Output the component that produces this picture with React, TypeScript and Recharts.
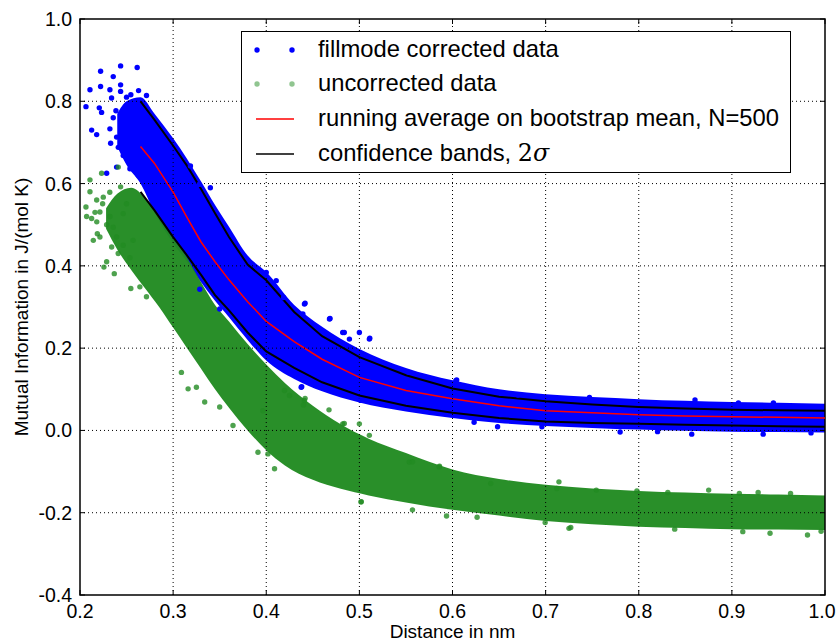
import React from "react";
import { Area, ComposedChart, Line, ReferenceArea, ReferenceLine, Scatter, XAxis, YAxis } from "recharts";

// axis ticks
const X_TICKS = [0.2, 0.3, 0.4, 0.5, 0.6, 0.7, 0.8, 0.9, 1.0];
const Y_TICKS = [-0.4, -0.2, 0.0, 0.2, 0.4, 0.6, 0.8, 1.0];
const X_GRID = [0.3, 0.4, 0.5, 0.6, 0.7, 0.8, 0.9];
const Y_GRID = [-0.2, 0.0, 0.2, 0.4, 0.6, 0.8];

// running average and 2 sigma bands
const BAND_X = [0.265, 0.28, 0.3, 0.315, 0.33, 0.345, 0.36, 0.38, 0.4, 0.43, 0.46, 0.5, 0.55, 0.6, 0.65, 0.7, 0.75, 0.8, 0.85, 0.9, 0.95, 1.0];
const MEAN = [0.69, 0.649, 0.579, 0.517, 0.458, 0.41, 0.366, 0.313, 0.265, 0.216, 0.173, 0.129, 0.097, 0.077, 0.06, 0.048, 0.043, 0.038, 0.035, 0.033, 0.032, 0.03];
const UPPER = [0.8, 0.755, 0.692, 0.643, 0.587, 0.528, 0.47, 0.403, 0.365, 0.288, 0.229, 0.178, 0.134, 0.102, 0.082, 0.071, 0.063, 0.057, 0.053, 0.05, 0.049, 0.048];
const LOWER = [0.58, 0.535, 0.47, 0.425, 0.378, 0.329, 0.292, 0.238, 0.192, 0.152, 0.117, 0.085, 0.06, 0.043, 0.03, 0.022, 0.018, 0.016, 0.014, 0.012, 0.01, 0.009];

// dense part of the corrected (blue) cloud
const BLUE_X = [0.24, 0.25, 0.265, 0.28, 0.3, 0.315, 0.33, 0.345, 0.36, 0.38, 0.4, 0.43, 0.46, 0.5, 0.55, 0.6, 0.65, 0.7, 0.75, 0.8, 0.85, 0.9, 0.95, 1.0];
const BLUE_LO = [0.69, 0.645, 0.6, 0.53, 0.455, 0.41, 0.36, 0.315, 0.275, 0.22, 0.17, 0.125, 0.095, 0.068, 0.046, 0.03, 0.018, 0.011, 0.006, 0.002, -0.001, -0.003, -0.004, -0.005];
const BLUE_HI = [0.77, 0.8, 0.81, 0.77, 0.71, 0.66, 0.605, 0.548, 0.495, 0.425, 0.385, 0.305, 0.252, 0.198, 0.152, 0.122, 0.1, 0.088, 0.081, 0.076, 0.072, 0.069, 0.067, 0.065];

// dense part of the uncorrected (green) cloud
const GREEN_X = [0.228, 0.24, 0.255, 0.27, 0.285, 0.3, 0.315, 0.33, 0.345, 0.36, 0.38, 0.4, 0.42, 0.45, 0.48, 0.51, 0.55, 0.6, 0.65, 0.7, 0.75, 0.8, 0.85, 0.9, 0.95, 1.0];
const GREEN_HI = [0.54, 0.575, 0.59, 0.565, 0.52, 0.47, 0.42, 0.36, 0.305, 0.265, 0.21, 0.16, 0.115, 0.06, 0.015, -0.02, -0.055, -0.095, -0.118, -0.132, -0.141, -0.147, -0.151, -0.154, -0.156, -0.158];
const GREEN_LO = [0.49, 0.44, 0.39, 0.345, 0.3, 0.25, 0.2, 0.15, 0.1, 0.055, 0.0, -0.048, -0.085, -0.12, -0.142, -0.158, -0.175, -0.193, -0.207, -0.22, -0.228, -0.234, -0.237, -0.24, -0.241, -0.242];

// scattered points outside the dense clouds
const BLUE_POINTS: [number, number][] = [
  [0.2064, 0.787], [0.2107, 0.828], [0.2125, 0.73], [0.2179, 0.719], [0.2221, 0.873], [0.2221, 0.836],
  [0.2207, 0.784], [0.2232, 0.773], [0.2321, 0.828], [0.2339, 0.808], [0.2357, 0.86], [0.2436, 0.886],
  [0.2436, 0.84], [0.2436, 0.824], [0.2614, 0.882], [0.2629, 0.826], [0.2714, 0.814], [0.2546, 0.816],
  [0.2321, 0.733], [0.2329, 0.698], [0.2286, 0.625], [0.2393, 0.64], [0.2411, 0.688], [0.2464, 0.668],
  [0.2536, 0.636], [0.2357, 0.76], [0.2386, 0.777], [0.3186, 0.643], [0.34, 0.59], [0.3279, 0.598],
  [0.25, 0.785], [0.2554, 0.761], [0.248, 0.737], [0.2393, 0.713], [0.2446, 0.697], [0.2518, 0.68],
  [0.2589, 0.713], [0.25, 0.81], [0.2571, 0.655], [0.2625, 0.62],
  [0.4, 0.384], [0.4107, 0.364], [0.4186, 0.323], [0.441, 0.307], [0.4393, 0.283], [0.4679, 0.271],
  [0.4821, 0.238], [0.4893, 0.222], [0.5, 0.238], [0.5107, 0.222], [0.4375, 0.105], [0.5018, 0.073],
  [0.5536, 0.141], [0.6036, 0.121], [0.6232, 0.02], [0.35, 0.295], [0.3286, 0.343], [0.4417, 0.309],
  [0.4685, 0.272], [0.4838, 0.238], [0.5112, 0.224], [0.6045, 0.1225], [0.4381, 0.106], [0.696, 0.009],
  [0.8202, -0.003], [0.6703, 0.086], [0.7471, 0.08], [0.8604, 0.074], [0.9446, 0.067], [0.907, 0.067],
  [0.8569, -0.009], [0.9336, -0.009], [0.985, -0.006], [0.78, -0.004], [0.6484, 0.009],
];

const GREEN_POINTS: [number, number][] = [
  [0.2064, 0.543], [0.2107, 0.609], [0.2125, 0.515], [0.2186, 0.478], [0.2214, 0.531], [0.2243, 0.551],
  [0.2321, 0.52], [0.2232, 0.625], [0.2411, 0.64], [0.2436, 0.592], [0.2368, 0.381], [0.2286, 0.41],
  [0.2257, 0.397], [0.2546, 0.345], [0.2643, 0.349], [0.2714, 0.325], [0.3089, 0.141], [0.3161, 0.101],
  [0.225, 0.567], [0.232, 0.579], [0.218, 0.507], [0.2357, 0.494], [0.2464, 0.527], [0.25, 0.551],
  [0.234, 0.446], [0.241, 0.43], [0.2214, 0.47], [0.2143, 0.462], [0.257, 0.462],
  [0.2107, 0.58], [0.2179, 0.56], [0.2286, 0.5], [0.2393, 0.47], [0.2464, 0.45], [0.2536, 0.42],
  [0.2161, 0.53], [0.2071, 0.52],
  [0.325, 0.105], [0.3339, 0.069], [0.35, 0.057], [0.3643, 0.012], [0.3911, -0.053], [0.4018, -0.057],
  [0.4089, -0.093], [0.3964, 0.048], [0.4196, 0.097], [0.425, 0.085], [0.441, 0.073], [0.4821, 0.016],
  [0.5, 0.016], [0.5107, -0.012], [0.5018, -0.174], [0.5536, -0.077], [0.5857, -0.089], [0.4417, 0.078],
  [0.44, 0.062], [0.4674, 0.05], [0.4838, 0.017], [0.557, -0.076], [0.5861, -0.087], [0.7143, -0.125],
  [0.798, -0.147], [0.8751, -0.145], [0.9282, -0.151], [0.502, -0.173], [0.6264, -0.211], [0.727, -0.236],
  [0.941, -0.25], [0.9812, -0.254], [0.7544, -0.145], [0.8312, -0.151], [0.908, -0.153], [0.963, -0.153],
  [0.641, -0.129], [0.712, -0.141], [0.6995, -0.224], [0.7251, -0.238], [0.8386, -0.24], [0.9117, -0.246],
  [0.9958, -0.245], [0.5936, -0.208], [0.557, -0.193],
];

const BLUE = "#0000ff";
const GREEN = "#228b22";
const FONT = "'Liberation Sans', Arial, Helvetica, sans-serif";

const PLOT = { left: 80, right: 825, top: 19, bottom: 595 };

const lineData = BAND_X.map((x, i) => ({ x, mean: MEAN[i], upper: UPPER[i], lower: LOWER[i] }));
const blueBand = BLUE_X.map((x, i) => ({ x, band: [BLUE_LO[i], BLUE_HI[i]] }));
const greenBand = GREEN_X.map((x, i) => ({ x, band: [GREEN_LO[i], GREEN_HI[i]] }));
const bluePts = BLUE_POINTS.map(([x, y]) => ({ x, y }));
const greenPts = GREEN_POINTS.map(([x, y]) => ({ x, y }));

function XTick(props: any) {
  const { x, payload } = props;
  const last = payload.value === X_TICKS[X_TICKS.length - 1];
  return (
    <g>
      <line x1={x} x2={x} y1={PLOT.bottom} y2={PLOT.bottom - 5} stroke="#000" />
      <line x1={x} x2={x} y1={PLOT.top} y2={PLOT.top + 5} stroke="#000" />
      <text x={last ? x - 3 : x} y={618} textAnchor="middle" fontSize={19.5} fontFamily={FONT} fill="#000">
        {payload.value.toFixed(1)}
      </text>
    </g>
  );
}

function YTick(props: any) {
  const { y, payload } = props;
  return (
    <g>
      <line x1={PLOT.left} x2={PLOT.left + 5} y1={y} y2={y} stroke="#000" />
      <line x1={PLOT.right} x2={PLOT.right - 5} y1={y} y2={y} stroke="#000" />
      <text x={72} y={y + 7} textAnchor="end" fontSize={19.5} fontFamily={FONT} fill="#000">
        {payload.value.toFixed(1)}
      </text>
    </g>
  );
}

const dot = (color: string, opacity: number) => (p: any) =>
  <circle cx={p.cx} cy={p.cy} r={2.7} fill={color} fillOpacity={opacity} />;

function LegendBox() {
  const rows = [49, 83, 118, 153];
  const text: React.CSSProperties = { position: "absolute", left: 76, fontSize: 23.8, lineHeight: "24px", whiteSpace: "nowrap" };
  return (
    <div
      style={{
        position: "absolute", left: 241, top: 31, width: 550, height: 142,
        border: "1.5px solid #000", boxSizing: "border-box", background: "#fff", fontFamily: FONT,
      }}
    >
      <svg width={60} height={140} style={{ position: "absolute", left: 0, top: 0 }}>
        <circle cx={15} cy={rows[0] - 31} r={2.7} fill={BLUE} />
        <circle cx={50} cy={rows[0] - 31} r={2.7} fill={BLUE} />
        <circle cx={15} cy={rows[1] - 31} r={2.7} fill={GREEN} fillOpacity={0.5} />
        <circle cx={50} cy={rows[1] - 31} r={2.7} fill={GREEN} fillOpacity={0.5} />
        <line x1={14} x2={52} y1={rows[2] - 31} y2={rows[2] - 31} stroke="#ff0000" strokeWidth={1.5} />
        <line x1={14} x2={52} y1={rows[3] - 31} y2={rows[3] - 31} stroke="#000" strokeWidth={1.5} />
      </svg>
      <div style={{ ...text, top: rows[0] - 44 }}>fillmode corrected data</div>
      <div style={{ ...text, top: rows[1] - 44 }}>uncorrected data</div>
      <div style={{ ...text, top: rows[2] - 44 }}>running average on bootstrap mean, N=500</div>
      <div style={{ ...text, top: rows[3] - 44 }}>
        confidence bands, <span style={{ fontFamily: "'DejaVu Serif', serif" }}>2<i>σ</i></span>
      </div>
    </div>
  );
}

export default function App() {
  return (
    <div style={{ position: "absolute", left: 0, top: 0, width: 837, height: 641, background: "#fff" }}>
      <ComposedChart width={837} height={641} margin={{ top: 19, right: 12, bottom: 0, left: 0 }}>
        <XAxis
          type="number" dataKey="x" domain={[0.2, 1.0]} ticks={X_TICKS} allowDataOverflow
          height={46} axisLine={false} tickLine={false} tick={<XTick />}
          label={{ value: "Distance in nm", position: "insideBottom", offset: 3, fontSize: 19, fontFamily: FONT, fill: "#000" }}
        />
        <YAxis
          type="number" domain={[-0.4, 1.0]} ticks={Y_TICKS} allowDataOverflow
          width={80} axisLine={false} tickLine={false} tick={<YTick />}
          label={{ value: "Mutual Information in J/(mol K)", angle: -90, position: "insideLeft", offset: 21, fontSize: 19, fontFamily: FONT, fill: "#000", style: { textAnchor: "middle" } }}
        />
        <Area data={blueBand} dataKey="band" type="monotone" stroke="none" fill={BLUE} fillOpacity={1} isAnimationActive={false} />
        <Scatter data={bluePts} dataKey="y" shape={dot(BLUE, 1)} isAnimationActive={false} />
        <Area data={greenBand} dataKey="band" type="monotone" stroke="none" fill={GREEN} fillOpacity={0.97} isAnimationActive={false} />
        <Scatter data={greenPts} dataKey="y" shape={dot(GREEN, 0.8)} isAnimationActive={false} />
        <Line data={lineData} dataKey="upper" type="linear" stroke="#000" strokeWidth={2} dot={false} isAnimationActive={false} />
        <Line data={lineData} dataKey="lower" type="linear" stroke="#000" strokeWidth={2} dot={false} isAnimationActive={false} />
        <Line data={lineData} dataKey="mean" type="linear" stroke="#ff0000" strokeWidth={1.5} dot={false} isAnimationActive={false} />
        {X_GRID.map((v) => (
          <ReferenceLine key={`gx${v}`} x={v} stroke="#000" strokeDasharray="1 3" strokeWidth={1} />
        ))}
        {Y_GRID.map((v) => (
          <ReferenceLine key={`gy${v}`} y={v} stroke="#000" strokeDasharray="1 3" strokeWidth={1} />
        ))}
        <ReferenceArea x1={0.2} x2={1.0} y1={-0.4} y2={1.0} fill="none" stroke="#000" strokeWidth={1.5} />
      </ComposedChart>
      <LegendBox />
    </div>
  );
}
